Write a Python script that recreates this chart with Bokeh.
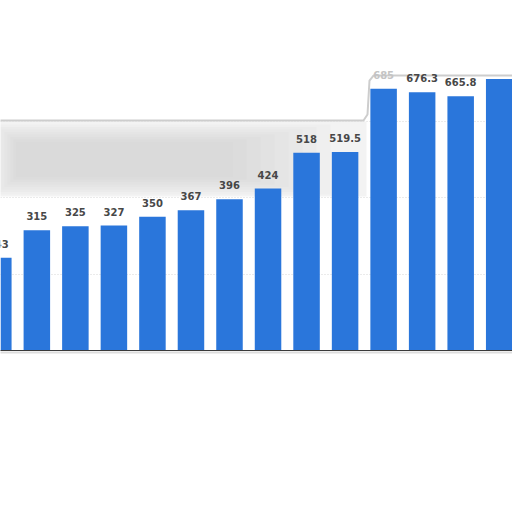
from bokeh.plotting import figure
from bokeh.models import Range1d, ColumnDataSource, FixedTicker, LabelSet
from bokeh.core.properties import value
from bokeh.embed import file_html
from bokeh.resources import INLINE

# ---- data ----
values = [243, 315, 325, 327, 350, 367, 396, 424, 518, 519.5, 685, 676.3, 665.8, 711]
value_labels = ["243", "315", "325", "327", "350", "367", "396", "424", "518", "519.5", "685", "676.3", "665.8", ""]
label_colors = ["#474747"] * 10 + ["#c4c4c4"] + ["#474747"] * 3
grid_ticks = [200, 400, 600]

positions = list(range(len(values)))

W, H = 512, 512
p = figure(width=W, height=H, output_backend="svg", toolbar_location=None,
           x_range=Range1d(0.0566, 13.345), y_range=Range1d(-424.1, 916.3),
           min_border=0, min_border_left=0, min_border_right=0,
           min_border_top=0, min_border_bottom=0)
p.outline_line_color = None
p.background_fill_color = "white"
p.border_fill_color = "white"
p.xaxis.visible = False
p.yaxis.visible = False
p.xgrid.grid_line_color = None
p.yaxis.ticker = FixedTicker(ticks=grid_ticks)
p.ygrid.ticker = FixedTicker(ticks=grid_ticks)
p.ygrid.grid_line_color = "#d6d6d6"
p.ygrid.grid_line_dash = "1 2"
p.ygrid.grid_line_width = 1

# soft grey blurred band (screenshot overlay)
def px2x(px):
    return (px + 2.18) / 38.53

def py2y(py):
    return (350 - py) * 2.618

p.quad(left=[px2x(-5)], right=[px2x(366)], top=[py2y(121)], bottom=[py2y(196)],
       fill_color="#f3f3f3", line_color=None)
for k in range(8):
    p.quad(left=[px2x(-5 + 3 * k)], right=[px2x(330 - 14 * k)],
           top=[py2y(124 + 2.5 * k)], bottom=[py2y(194 - 2.5 * k)],
           fill_color="#bdbdbd", fill_alpha=0.06, line_color=None)
p.line(x=[px2x(-5), px2x(363), px2x(367), px2x(369), px2x(373), px2x(520)],
       y=[py2y(120), py2y(120), py2y(114), py2y(80), py2y(75), py2y(75)],
       line_color="#cdcdcd", line_width=2)

src = ColumnDataSource(dict(x=positions, top=values, label=value_labels, color=label_colors))
p.vbar(x="x", top="top", bottom=0, width=0.688, source=src,
       fill_color="#2a76db", line_color=None)

labels = LabelSet(x="x", y="top", text="label", source=src, text_align="center",
                  text_baseline="alphabetic", y_offset=10, text_color="color",
                  text_font=value("DejaVu Sans"), text_font_size=value("10px"),
                  text_font_style=value("bold"))
p.add_layout(labels)

# baseline
p.line(x=[px2x(-5), px2x(520)], y=[0, 0], line_color="#3a3a3a", line_width=1.2)
p.line(x=[px2x(-5), px2x(520)], y=[py2y(352), py2y(352)], line_color="#dddddd", line_width=2)

open("out.html", "w").write(file_html(p, INLINE))
